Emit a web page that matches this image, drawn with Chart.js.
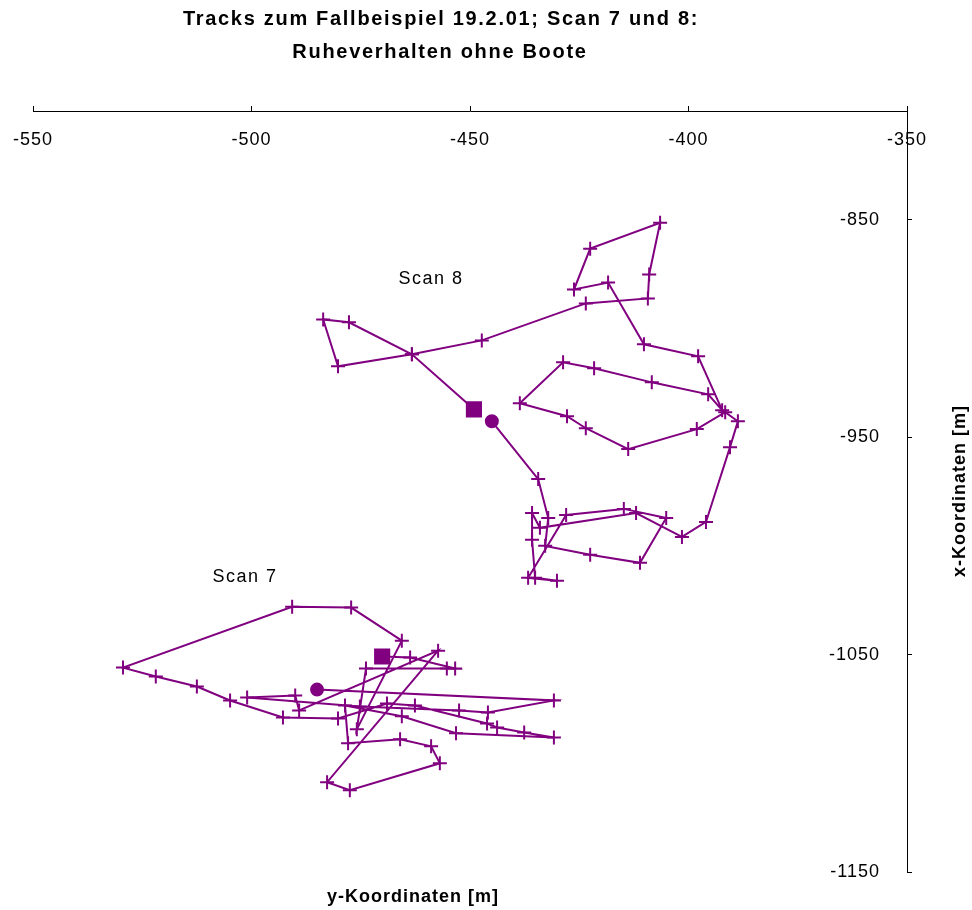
<!DOCTYPE html>
<html>
<head>
<meta charset="utf-8">
<title>Tracks zum Fallbeispiel 19.2.01</title>
<script src="https://cdn.jsdelivr.net/npm/chart.js@4"></script>
<style>
  html, body { margin: 0; padding: 0; background: #fff; }
</style>
</head>
<body>
<canvas id="chart" width="972" height="910"></canvas>
<script>
const titleLines = ['Tracks zum Fallbeispiel 19.2.01; Scan 7 und 8:', 'Ruheverhalten ohne Boote'];
const xAxisTitle = 'y-Koordinaten [m]';
const yAxisTitle = 'x-Koordinaten [m]';
const xTicks = [-550, -500, -450, -400, -350];
const yTicks = [-850, -950, -1050, -1150];

// horizontal = y-Koordinate, vertical = x-Koordinate (first point = square, last = circle)
const scan8Y = [-449.1, -463.3, -477.7, -483.6, -480.2, -463.3, -447.3, -423.5, -409.3, -409.0,
  -406.5, -422.5, -426.2, -418.4, -410.2, -397.8, -392.3, -395.5, -408.4, -421.6,
  -428.7, -438.6, -427.8, -423.5, -413.8, -398.1, -391.6, -388.7, -390.5, -396.0,
  -401.5, -412.0, -434.0, -435.8, -435.8, -435.1, -430.1, -436.7, -428.0, -414.8,
  -405.1, -411.1, -422.5, -432.8, -432.1, -434.4, -445.0];
const scan8X = [-937.2, -911.9, -897.2, -895.9, -917.4, -911.9, -905.5, -888.5, -886.2, -875.2,
  -851.4, -863.3, -882.1, -878.9, -907.3, -912.8, -937.6, -930.3, -924.8, -918.3,
  -915.6, -934.4, -940.4, -945.9, -955.5, -946.3, -938.5, -942.7, -954.6, -989.0,
  -995.9, -984.9, -991.7, -984.9, -997.2, -1014.7, -1016.1, -1014.7, -985.8, -983.0,
  -987.2, -1007.8, -1004.1, -1000.0, -987.2, -969.3, -942.7];

const scan7Y = [-470.1, -463.7, -453.4, -455.3, -473.8, -475.9, -465.6, -477.2, -490.7, -529.4,
  -521.9, -512.5, -504.9, -492.8, -480.2, -469.0, -462.6, -446.1, -443.8, -437.6,
  -430.8, -453.2, -465.6, -478.6, -477.9, -466.0, -458.9, -456.9, -477.5, -482.7,
  -457.3, -489.1, -490.0, -501.0, -475.2, -452.5, -445.9, -430.8, -485.0];
const scan7X = [-1050.9, -1051.4, -1056.4, -1056.4, -1056.4, -1084.4, -1043.6, -1028.4, -1028.0, -1056.0,
  -1060.1, -1064.7, -1071.1, -1078.9, -1079.4, -1072.5, -1073.4, -1081.7, -1083.5, -1085.8,
  -1088.1, -1086.2, -1078.4, -1073.4, -1090.8, -1089.0, -1092.2, -1100.0, -1112.4, -1108.7,
  -1048.2, -1075.7, -1068.8, -1069.7, -1073.9, -1075.7, -1076.6, -1071.1, -1066.1];

const trackNames = ['Scan 8', 'Scan 7'];
const namePosY = [-458.9, -501.5];
const namePosX = [-877.5, -1014.2];

const purple = '#800080';
const fontFamily = '"Liberation Sans", Arial, Helvetica, sans-serif';

function toPoints(h, v) {
  return h.map((val, i) => ({ x: val, y: v[i] }));
}

function markerStyles(n) {
  return Array.from({ length: n }, (_, i) => (i === 0 ? 'rect' : i === n - 1 ? 'circle' : 'cross'));
}

function markerSizes(n) {
  return Array.from({ length: n }, (_, i) => (i === 0 ? 10 : i === n - 1 ? 6 : 7));
}

function trackDataset(name, h, v) {
  return {
    label: name,
    data: toPoints(h, v),
    showLine: true,
    borderColor: purple,
    borderWidth: 2,
    backgroundColor: purple,
    pointStyle: markerStyles(h.length),
    pointRadius: markerSizes(h.length),
    pointBorderWidth: 2,
    pointBorderColor: purple,
    pointBackgroundColor: purple,
    tension: 0,
  };
}

const textPlugin = {
  id: 'chartTexts',
  beforeDraw(chart) {
    chart.ctx.letterSpacing = '1px';
  },
  afterDraw(chart) {
    const { ctx, scales: { x, y } } = chart;
    ctx.save();
    ctx.fillStyle = '#000';
    ctx.textAlign = 'center';
    ctx.textBaseline = 'middle';

    ctx.letterSpacing = '1.7px';
    ctx.font = 'bold 20px ' + fontFamily;
    ctx.fillText(titleLines[0], 441, 19);
    ctx.fillText(titleLines[1], 440, 52);

    ctx.letterSpacing = '1px';
    ctx.font = 'bold 18px ' + fontFamily;
    ctx.fillText(xAxisTitle, 413, 897);

    ctx.save();
    ctx.translate(960, 491);
    ctx.rotate(-Math.PI / 2);
    ctx.fillText(yAxisTitle, 0, 0);
    ctx.restore();

    ctx.letterSpacing = '1.5px';
    ctx.font = '18px ' + fontFamily;
    trackNames.forEach((name, i) => {
      ctx.fillText(name, x.getPixelForValue(namePosY[i]), y.getPixelForValue(namePosX[i]));
    });
    ctx.restore();
  },
};

new Chart(document.getElementById('chart'), {
  type: 'scatter',
  data: {
    datasets: [
      trackDataset(trackNames[0], scan8Y, scan8X),
      trackDataset(trackNames[1], scan7Y, scan7X),
    ],
  },
  options: {
    responsive: false,
    animation: false,
    devicePixelRatio: 1,
    layout: { padding: { top: 101, left: 33, right: 0, bottom: 38 } },
    plugins: {
      legend: { display: false },
      tooltip: { enabled: false },
      title: { display: false },
    },
    scales: {
      x: {
        type: 'linear',
        position: 'top',
        min: -550,
        max: -350,
        afterBuildTicks: (s) => { s.ticks = xTicks.map((v) => ({ value: v })); },
        afterFit: (s) => {
          s.height = 10;
          s.paddingLeft = 0;
          s.paddingRight = 0;
        },
        grid: { drawOnChartArea: false, drawTicks: true, tickLength: 5, color: '#000' },
        border: { display: true, color: '#000', width: 1 },
        ticks: {
          mirror: true,
          padding: 18,
          color: '#000',
          font: { family: fontFamily, size: 18 },
          maxRotation: 0,
          autoSkip: false,
          callback: (v) => String(v),
        },
      },
      y: {
        type: 'linear',
        position: 'right',
        min: -1150,
        max: -800,
        afterBuildTicks: (s) => { s.ticks = yTicks.map((v) => ({ value: v })); },
        afterFit: (s) => {
          s.width = 65;
          s.paddingTop = 0;
          s.paddingBottom = 0;
        },
        grid: { drawOnChartArea: false, drawTicks: true, tickLength: 5, color: '#000' },
        border: { display: true, color: '#000', width: 1 },
        ticks: {
          mirror: true,
          padding: -27,
          color: '#000',
          font: { family: fontFamily, size: 18 },
          autoSkip: false,
          callback: (v) => String(v),
        },
      },
    },
  },
  plugins: [textPlugin],
});
</script>
</body>
</html>
